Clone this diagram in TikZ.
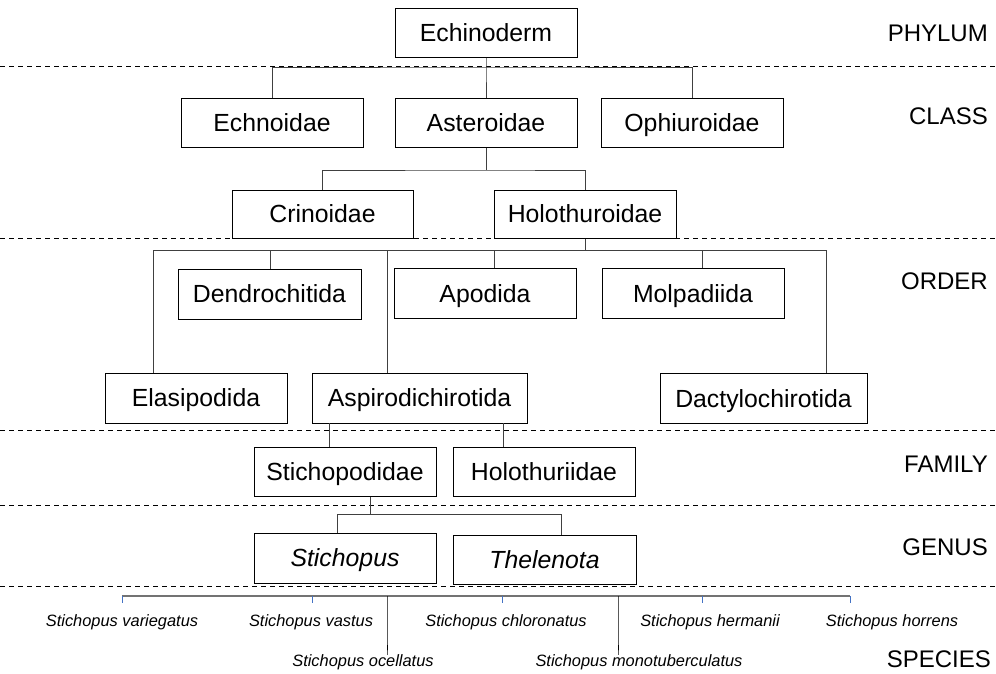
\documentclass[tikz,border=0pt]{standalone}
\usepackage{fontspec}
\setmainfont{Liberation Sans}
\usepackage{tikz}

\definecolor{tickblue}{RGB}{68,114,196}
\newcommand{\boxfont}{\fontsize{24.8}{28}\selectfont}
\newcommand{\spfont}{\fontsize{16.4}{19}\selectfont\itshape}
\newcommand{\rankfont}{\fontsize{24}{28}\selectfont}

\begin{document}
\begin{tikzpicture}[x=1pt,y=1pt,yscale=-1,
  box/.style={draw=black, line width=1pt, minimum height=49pt, inner sep=0pt,
    text height=17.8pt, text depth=0pt, font=\boxfont},
  conn/.style={draw=black!75, line width=1pt},
  level/.style={draw=black, line width=0.9pt, dash pattern=on 5pt off 4pt},
  tick/.style={draw=tickblue, line width=0.9pt},
  species/.style={inner sep=0pt, text height=11.7pt, text depth=0pt, font=\spfont},
  rank/.style={anchor=east, inner sep=0pt, text height=17.2pt, text depth=0pt, font=\rankfont}]
\useasboundingbox (0,0) rectangle (996,673);
% rank borders
\draw[level] (0,66) -- (996,66);
\draw[level] (0,238) -- (996,238);
\draw[level] (0,430) -- (996,430);
\draw[level] (0,505) -- (996,505);
\draw[level] (0,586) -- (996,586);
% rank names
\node[rank] (phylum) at (988,33) {PHYLUM};
\node[rank] (class) at (988,116) {CLASS};
\node[rank] (order) at (988,281) {ORDER};
\node[rank] (family) at (988,463.5) {FAMILY};
\node[rank] (genus) at (988,546.5) {GENUS};
\node[rank] (spec) at (991,659) {SPECIES};
% boxes
\node[box, fill=white, minimum width=182pt] (echino) at (486,32.5) {Echinoderm};
\node[box, minimum width=182pt] (echno) at (272,123) {Echnoidae};
\node[box, minimum width=182pt] (aster) at (486,123) {Asteroidae};
\node[box, minimum width=182pt] (ophiu) at (692,123) {Ophiuroidae};
\node[box, minimum width=181pt, minimum height=48pt] (crino) at (322.5,214) {Crinoidae};
\node[box, minimum width=182pt, minimum height=48pt] (holo) at (585,214) {Holothuroidae};
\node[box, minimum width=183pt, minimum height=50pt] (dendro) at (269.5,294) {Dendrochitida};
\node[box, minimum width=182pt, minimum height=50pt] (apod) at (485,293.5) {Apodida};
\node[box, minimum width=182pt, minimum height=50pt] (molp) at (693,293.5) {Molpadiida};
\node[box, minimum width=182pt, minimum height=50pt] (elasi) at (196,398) {Elasipodida};
\node[box, minimum width=215pt, minimum height=50pt] (aspir) at (419.5,398) {Aspirodichirotida};
\node[box, minimum width=207pt, minimum height=50pt] (dactyl) at (763.5,398.5) {Dactylochirotida};
\node[box, minimum width=182pt] (stichf) at (345,471.5) {Stichopodidae};
\node[box, minimum width=182pt] (holoth) at (544,471.5) {Holothuriidae};
\node[box, minimum width=182pt, minimum height=50pt] (stichg) at (345,558) {\itshape Stichopus};
\node[box, minimum width=183pt] (thel) at (544.5,559.5) {\itshape Thelenota};
% phylum -> class
\coordinate (b1) at (486,67);
\draw[conn] (echino.south) -- (b1) -- (aster.north);
\draw[conn] (echno.north) |- (b1) -| (ophiu.north);
% class -> subclass
\coordinate (b2) at (486,170);
\draw[conn] (aster.south) -- (b2);
\draw[conn] (crino.north) |- (b2) -| (holo.north);
% order
\coordinate (b3) at (585,250);
\coordinate (o1) at (153,250);
\coordinate (o2) at (270,250);
\coordinate (o3) at (387,250);
\coordinate (o4) at (494,250);
\coordinate (o5) at (702,250);
\coordinate (o6) at (826,250);
\draw[conn] (holo.south) -- (b3);
\draw[conn] (o1) -- (o6);
\draw[conn] (o1) -- (o1 |- elasi.north);
\draw[conn] (o2) -- (o2 |- dendro.north);
\draw[conn] (o3) -- (o3 |- aspir.north);
\draw[conn] (o4) -- (o4 |- apod.north);
\draw[conn] (o5) -- (o5 |- molp.north);
\draw[conn] (o6) -- (o6 |- dactyl.north);
% family
\coordinate (f1) at (329,423);
\coordinate (f2) at (503,423);
\draw[conn] (f1) -- (f1 |- stichf.north);
\draw[conn] (f2) -- (f2 |- holoth.north);
% genus
\coordinate (g0) at (370,514);
\coordinate (g1) at (337,514);
\coordinate (g2) at (561,514);
\draw[conn] (g0 |- stichf.south) -- (g0);
\draw[conn] (g1 |- stichg.north) -- (g1) -- (g2) -- (g2 |- thel.north);
% species
\node[species] (varie) at (122,621) {Stichopus variegatus};
\node[species] (vast) at (311,621) {Stichopus vastus};
\node[species] (chlor) at (506,621) {Stichopus chloronatus};
\node[species] (herm) at (710,621) {Stichopus hermanii};
\node[species] (horr) at (892,621) {Stichopus horrens};
\node[species] (ocel) at (363,661) {Stichopus ocellatus};
\node[species] (monot) at (639,661) {Stichopus monotuberculatus};
\coordinate (s1) at (122,596);
\coordinate (s2) at (312,596);
\coordinate (s3) at (502,596);
\coordinate (s4) at (702,596);
\coordinate (s5) at (850,596);
\coordinate (s6) at (387,596);
\coordinate (s7) at (618,596);
\draw[draw=black!55, line width=1.2pt] (s1) -- (s5);
\foreach \s in {s1,s2,s3,s4,s5}
  \draw[tick] (\s) -- ++(0,7);
\draw[conn, draw=black] (s6) -- (s6 |- ocel.north) -- ++(0,-10);
\draw[conn, draw=black] (s7) -- (s7 |- monot.north) -- ++(0,-10);
\end{tikzpicture}
\end{document}
